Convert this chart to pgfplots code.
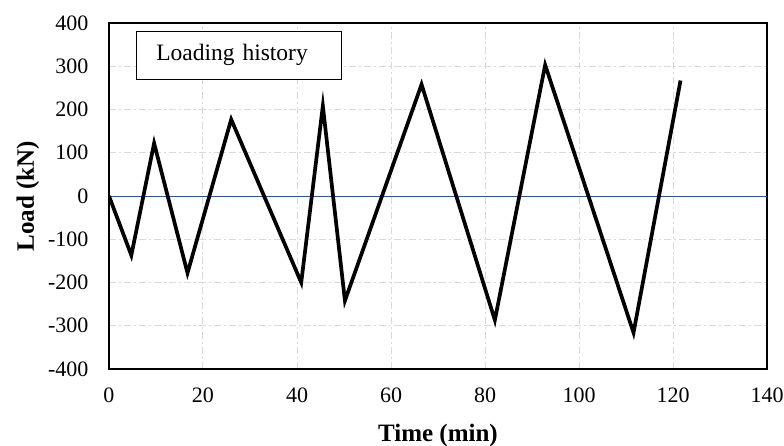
\documentclass[border=0pt]{standalone}
\usepackage{fontspec}
\setmainfont{Liberation Serif}
\usepackage{pgfplots}
\pgfplotsset{compat=1.18}
\begin{document}
\begin{tikzpicture}[x=1pt,y=1pt]
\useasboundingbox (-109,-76) rectangle (675,369);
\begin{axis}[
  at={(0,0)}, anchor=south west,
  scale only axis, width=658pt, height=346pt,
  xmin=0, xmax=140, ymin=-400, ymax=400,
  xtick={0,20,...,140}, ytick={-400,-300,...,400},
  major tick length=0pt,
  grid=major,
  grid style={gray!30, line width=1pt, dash pattern=on 7pt off 3pt on 2pt off 3pt},
  axis line style={line width=1.3pt},
  tick label style={font=\fontsize{22}{26}\selectfont},
  /pgf/number format/assume math mode=true,
  xticklabel style={yshift=-15pt},
  yticklabel style={xshift=-17pt},
  xlabel={\textbf{Time (min)}},
  ylabel={\textbf{Load (kN)}},
  label style={font=\fontsize{25}{30}\selectfont},
  xlabel style={at={(axis description cs:0.5,0)}, anchor=base, yshift=-72pt},
  ylabel style={at={(axis description cs:-0.114,0.5)}, anchor=base},
]
\addplot[color={rgb,255:red,47;green,85;blue,151}, line width=1pt] coordinates {(0,0) (140,0)};
\addplot[black, line width=3.7pt, line join=miter] coordinates {
(0,0) (4.75,-137) (9.6,122) (16.7,-178) (26.0,177) (40.9,-200) (45.5,208) (50.2,-242) (66.5,258) (82.1,-287) (92.8,303) (111.6,-316) (121.6,267)
};
\node[draw=black, fill=white, line width=0.8pt, anchor=north west, text width=165pt, inner xsep=20pt, minimum height=48pt, align=left, font=\fontsize{23.5}{28}\selectfont] at (rel axis cs:0.041,0.977) {Loading history};
\end{axis}
\end{tikzpicture}
\end{document}
